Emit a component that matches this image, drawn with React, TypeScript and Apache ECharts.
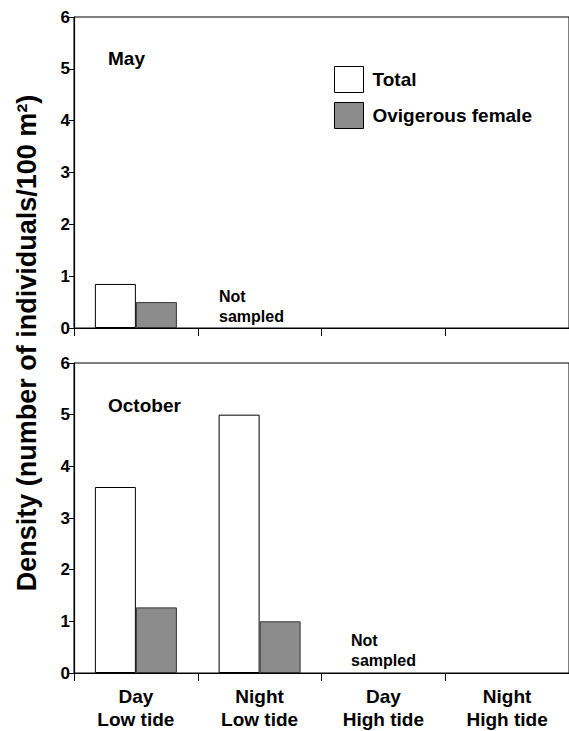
import React, { useEffect, useRef } from "react";
import * as echarts from "echarts";

const categories = ["Day\nLow tide", "Night\nLow tide", "Day\nHigh tide", "Night\nHigh tide"];
const mayTotal = [0.85, null, null, null];
const mayOvigerous = [0.5, null, null, null];
const octTotal = [3.6, 5.0, null, null];
const octOvigerous = [1.27, 1.0, null, null];
const seriesNames = ["Total", "Ovigerous female"];
const yTicks = [0, 1, 2, 3, 4, 5, 6];

const FONT = "Liberation Sans, Arial, sans-serif";

export default function App() {
  const ref = useRef<HTMLDivElement>(null);
  useEffect(() => {
    if (!ref.current) return;
    const chart = echarts.init(ref.current, null, { renderer: "svg" });
    const gridTops = [17, 363];
    const grids = gridTops.map((t) => ({
      left: 74,
      top: t,
      width: 496,
      height: 311,
      show: true,
      borderColor: "#000",
      borderWidth: 1,
      backgroundColor: "transparent",
    }));
    const xAxes = [0, 1].map((i) => ({
      type: "category",
      gridIndex: i,
      data: categories,
      boundaryGap: true,
      axisLine: { show: true, lineStyle: { color: "#000", width: 1.2 } },
      axisTick: { show: true, length: 8, lineStyle: { color: "#000" } },
      axisLabel: {
        show: i === 1,
        color: "#000",
        fontFamily: FONT,
        fontWeight: "bold",
        fontSize: 19,
        lineHeight: 23,
        margin: 12,
        interval: 0,
      },
      splitLine: { show: false },
    }));
    const yAxes = [0, 1].map((i) => ({
      type: "value",
      gridIndex: i,
      min: yTicks[0],
      max: yTicks[yTicks.length - 1],
      interval: 1,
      axisLine: { show: true, lineStyle: { color: "#000", width: 1.2 } },
      axisTick: { show: true, length: 5, lineStyle: { color: "#000" } },
      axisLabel: {
        color: "#000",
        fontFamily: FONT,
        fontWeight: "bold",
        fontSize: 17,
        margin: 4,
      },
      splitLine: { show: false },
    }));
    const totalStyle = { color: "#fff", borderColor: "#000", borderWidth: 1 };
    const ovStyle = { color: "#8c8c8c", borderColor: "#333", borderWidth: 1 };
    const mk = (name: string, data: any[], idx: number, style: any) => ({
      name,
      type: "bar",
      xAxisIndex: idx,
      yAxisIndex: idx,
      data,
      barWidth: 41,
      barGap: "0%",
      itemStyle: style,
    });
    const txt = (x: number, y: number, text: string, size: number, lh?: number) => ({
      type: "text",
      x,
      y,
      style: {
        text,
        fill: "#000",
        font: `bold ${size}px ${FONT}`,
        lineHeight: lh,
        textVerticalAlign: "middle",
        verticalAlign: "middle",
      },
    });
    chart.setOption({
      animation: false,
      backgroundColor: "#fff",
      textStyle: { fontFamily: FONT, fontWeight: "bold", color: "#000" },
      grid: grids,
      xAxis: xAxes,
      yAxis: yAxes,
      legend: {
        data: seriesNames,
        orient: "vertical",
        left: 329,
        top: 61,
        itemWidth: 29,
        itemHeight: 26,
        itemGap: 9,
        icon: "rect",
        textStyle: { color: "#000", fontFamily: FONT, fontWeight: "bold", fontSize: 19, padding: [0, 0, 0, 4] },
        itemStyle: { borderColor: "#000", borderWidth: 1 },
        selectedMode: false,
      },
      series: [
        mk(seriesNames[0], mayTotal, 0, totalStyle),
        mk(seriesNames[1], mayOvigerous, 0, ovStyle),
        mk(seriesNames[0], octTotal, 1, totalStyle),
        mk(seriesNames[1], octOvigerous, 1, ovStyle),
      ],
      graphic: [
        txt(108, 58, "May", 19),
        txt(108, 405, "October", 19),
        txt(219, 306, "Not\nsampled", 16, 20),
        txt(351, 650, "Not\nsampled", 16, 20),
        {
          type: "text",
          x: 27,
          y: 343,
          rotation: Math.PI / 2,
          style: {
            text: "Density (number of individuals/100 m²)",
            fill: "#000",
            font: `bold 27px ${FONT}`,
            textAlign: "center",
            textVerticalAlign: "middle",
            align: "center",
            verticalAlign: "middle",
          },
        },
      ],
    });
    return () => chart.dispose();
  }, []);
  return <div ref={ref} style={{ width: 569, height: 731, position: "absolute", left: 0, top: 0 }} />;
}
